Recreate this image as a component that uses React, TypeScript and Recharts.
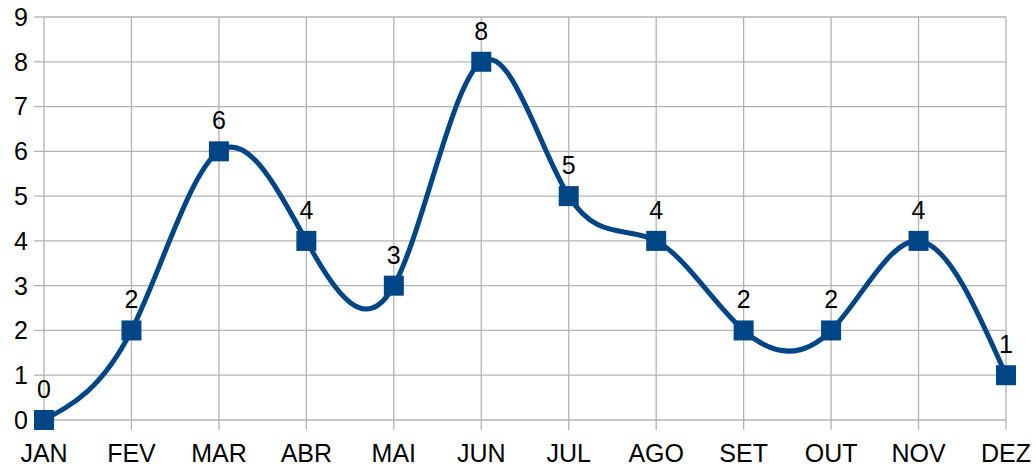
import React from 'react';
import { LineChart, Line, XAxis, YAxis, CartesianGrid, LabelList } from 'recharts';

const months = ['JAN', 'FEV', 'MAR', 'ABR', 'MAI', 'JUN', 'JUL', 'AGO', 'SET', 'OUT', 'NOV', 'DEZ'];
const counts = [0, 2, 6, 4, 3, 8, 5, 4, 2, 2, 4, 1];
const yTicks = [0, 1, 2, 3, 4, 5, 6, 7, 8, 9];

const BLUE = '#004586';
const GRID = '#b3b3b3';
const FONT = '"Liberation Sans", Arial, sans-serif';

const data = months.map((m, i) => ({ month: m, value: counts[i] }));

// square marker centred on the point
const SquareDot = (props: any) => {
  const { cx, cy } = props;
  if (cx == null || cy == null) return null;
  return <rect x={cx - 10} y={cy - 10} width={20} height={20} fill={BLUE} />;
};

const ValueLabel = (props: any) => {
  const { x, y, value } = props;
  return (
    <text x={x} y={y - 22} textAnchor="middle" fontSize={25} fontFamily={FONT} fill="#000">
      {value}
    </text>
  );
};

export default function App() {
  return (
    <div style={{ position: 'absolute', left: 0, top: 0, width: 1036, height: 468, background: '#fff' }}>
      <LineChart width={1036} height={468} data={data} margin={{ top: 17, right: 30, left: 0, bottom: 0 }}>
        <CartesianGrid stroke={GRID} strokeWidth={1.3} />
        <XAxis
          dataKey="month"
          height={48}
          axisLine={false}
          tickLine={{ stroke: GRID, strokeWidth: 1.3 }}
          tickSize={10}
          tickMargin={14}
          interval={0}
          tick={{ fontSize: 25, fontFamily: FONT, fill: '#000' }}
        />
        <YAxis
          width={44}
          domain={[0, 9]}
          ticks={yTicks}
          axisLine={false}
          tickLine={{ stroke: GRID, strokeWidth: 1.3 }}
          tickSize={10}
          tickMargin={6}
          tick={{ fontSize: 25, fontFamily: FONT, fill: '#000' }}
        />
        <Line
          type="natural"
          dataKey="value"
          stroke={BLUE}
          strokeWidth={5}
          dot={<SquareDot />}
          activeDot={false}
          isAnimationActive={false}
        >
          <LabelList dataKey="value" content={<ValueLabel />} />
        </Line>
      </LineChart>
    </div>
  );
}
